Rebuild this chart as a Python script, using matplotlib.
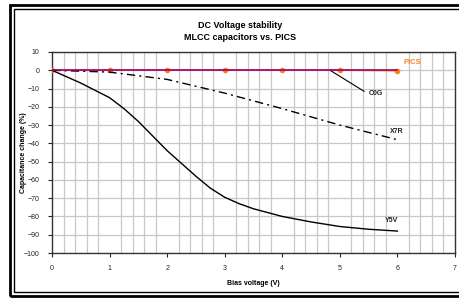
import matplotlib
matplotlib.use('Agg')
import matplotlib.pyplot as plt
import matplotlib.patches as patches
import numpy as np

plt.rcParams['font.family'] = ['Liberation Sans', 'DejaVu Sans']

# --- data ---
pics_x = [0, 1, 2, 3, 4, 5, 6]
pics_y = [0, 0, 0, 0, 0, 0, -0.3]

c0g_x = [0, 6]
c0g_y = [0, 0]

x7r_x = [0, 1, 2, 3, 4, 5, 6]
x7r_y = [0, -1, -5, -12.5, -21, -30, -38]

y5v_x = [0, 0.5, 1, 1.25, 1.5, 1.75, 2, 2.25, 2.5, 2.75, 3, 3.25, 3.5, 4, 4.5, 5, 5.5, 6]
y5v_y = [0, -7, -15, -21, -28, -36, -44, -51, -58, -64.5, -69.5, -73, -75.8, -80, -83, -85.5, -87, -88]

x_ticks = [0, 1, 2, 3, 4, 5, 6, 7]
y_ticks = list(range(-100, 11, 10))

fig = plt.figure(figsize=(4.6, 3.0), dpi=100)

# double frame round the chart
fig.patches.append(patches.Rectangle((10 / 460, 4 / 300), 460 / 460, 291 / 300, transform=fig.transFigure,
                                     fill=False, ec='black', lw=2.0))
fig.patches.append(patches.Rectangle((14 / 460, 8 / 300), 460 / 460, 283 / 300, transform=fig.transFigure,
                                     fill=False, ec='black', lw=1.0))

ax = fig.add_axes([52 / 460, 47 / 300, 403 / 460, 201 / 300])

ax.set_xlim(0, 7)
ax.set_ylim(-100, 10)
ax.set_xticks(x_ticks)
ax.set_yticks(y_ticks)
ax.set_xticks(np.arange(0, 7.01, 0.2), minor=True)
ax.tick_params(axis='x', which='minor', length=0)
ax.tick_params(axis='both', which='major', labelsize=5, length=3, width=0.8, colors='#222222', pad=6)
ax.grid(True, which='major', axis='y', color='#c8c8c8', lw=0.9)
ax.grid(True, which='minor', axis='x', color='#c8c8c8', lw=0.9)
ax.set_axisbelow(True)
for s in ax.spines.values():
    s.set_color('#333333')
    s.set_linewidth(1.0)

ax.plot(pics_x, pics_y, color='#ff7f1e', lw=1.0, marker='o', ms=3, zorder=3)
ax.plot(c0g_x, c0g_y, color='#a0006e', lw=1.2, zorder=4)
ax.plot(x7r_x, x7r_y, color='black', lw=1.0, dashes=(6, 3, 1.5, 3), zorder=3)
ax.plot(y5v_x, y5v_y, color='black', lw=1.0, zorder=3)

# label leader for C0G
ax.plot([4.83, 5.42], [0, -11.5], color='black', lw=0.8, zorder=3)

ax.text(5.5, -12.5, "C0G", fontsize=5, fontweight='bold', color='#222222', va='center')
ax.text(5.87, -33.5, "X7R", fontsize=5, fontweight='bold', color='#222222', va='center')
ax.text(5.78, -82, "Y5V", fontsize=5, fontweight='bold', color='#222222', va='center')
ax.text(6.1, 4, "PICS", fontsize=5.5, fontweight='bold', color='#ff7f1e', va='center')

fig.text(240 / 460, 1 - 25 / 300, "DC Voltage stability", ha='center', va='center',
         fontsize=6.5, fontweight='bold')
fig.text(240 / 460, 1 - 38 / 300, "MLCC capacitors vs. PICS", ha='center', va='center',
         fontsize=6.5, fontweight='bold')
ax.set_xlabel("Bias voltage (V)", fontsize=5, fontweight='bold')
ax.set_ylabel("Capacitance change (%)", fontsize=5, fontweight='bold')
ax.xaxis.set_label_coords(0.5, -0.134)
ax.yaxis.set_label_coords(-0.062, 0.5)

fig.savefig('out.png', dpi=100)
